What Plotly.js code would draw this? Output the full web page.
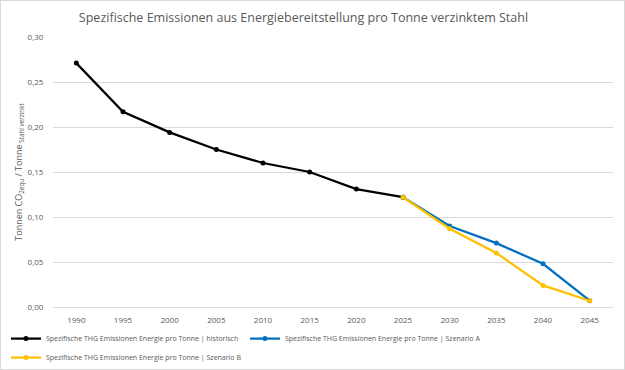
<!DOCTYPE html>
<html>
<head>
<meta charset="utf-8">
<script src="https://cdn.plot.ly/plotly-3.0.1.min.js"></script>
<style>
html,body{margin:0;padding:0;background:#fff;}
#chart{width:625px;height:370px;box-sizing:border-box;border:1px solid #d9d9d9;}
</style>
</head>
<body>
<div id="chart"></div>
<script>
const years = ["1990","1995","2000","2005","2010","2015","2020","2025","2030","2035","2040","2045"];
const histYears = ["1990","1995","2000","2005","2010","2015","2020","2025"];
const histValues = [0.271,0.217,0.194,0.175,0.160,0.150,0.131,0.122];
const scenYears = ["2025","2030","2035","2040","2045"];
const scenAValues = [0.122,0.090,0.071,0.048,0.007];
const scenBValues = [0.122,0.087,0.060,0.024,0.007];
const seriesNames = [
  "Spezifische THG Emissionen Energie pro Tonne | historisch",
  "Spezifische THG Emissionen Energie pro Tonne | Szenario A",
  "Spezifische THG Emissionen Energie pro Tonne | Szenario B"
];
const colors = ["#000000","#0070C0","#FFC000"];

function tr(x,y,name,color){
  return {x:x,y:y,name:name,type:"scatter",mode:"lines+markers",
    line:{color:color,width:2.25},marker:{color:color,size:5,symbol:"circle"}};
}
const data = [
  tr(histYears,histValues,seriesNames[0],colors[0]),
  tr(scenYears,scenAValues,seriesNames[1],colors[1]),
  tr(scenYears,scenBValues,seriesNames[2],colors[2])
];
const font = "'Open Sans', 'Liberation Sans', sans-serif";
const layout = {
  width:623,height:368,
  margin:{l:52,r:11,t:36,b:62,autoexpand:false},
  paper_bgcolor:"#fff",plot_bgcolor:"#fff",
  separators:",.",
  font:{family:font,color:"#595959",size:8},
  title:{text:"Spezifische Emissionen aus Energiebereitstellung pro Tonne verzinktem Stahl",
    font:{family:font,size:12.5,color:"#595959"},xref:"container",x:0.4855,xanchor:"center",y:0.955,yanchor:"middle"},
  xaxis:{type:"category",categoryorder:"array",categoryarray:years,range:[-0.5,11.5],
    showgrid:false,showline:true,linecolor:"#d9d9d9",linewidth:1,
    ticks:"outside",ticklen:5,tickcolor:"rgba(0,0,0,0)",
    tickfont:{size:8,color:"#595959"},fixedrange:true},
  yaxis:{range:[0,0.30],dtick:0.05,tickformat:".2f",showgrid:true,gridcolor:"#d9d9d9",gridwidth:1,
    zeroline:false,showline:false,ticks:"outside",ticklen:7,tickcolor:"rgba(0,0,0,0)",
    tickfont:{size:8,color:"#595959"},
    title:{text:"Tonnen CO<sub>2equ</sub> / Tonne<sub> Stahl verzinkt</sub>",font:{size:9,color:"#595959"},standoff:3}},
  showlegend:true,
  legend:{orientation:"h",xref:"container",yref:"container",x:0.008,xanchor:"left",y:0.122,yanchor:"top",
    font:{size:7,color:"#595959"},itemwidth:30,entrywidth:194,entrywidthmode:"pixels",
    traceorder:"normal",tracegroupgap:0,bgcolor:"rgba(0,0,0,0)"}
};
Plotly.newPlot("chart",data,layout,{displayModeBar:false,staticPlot:true});
</script>
</body>
</html>
